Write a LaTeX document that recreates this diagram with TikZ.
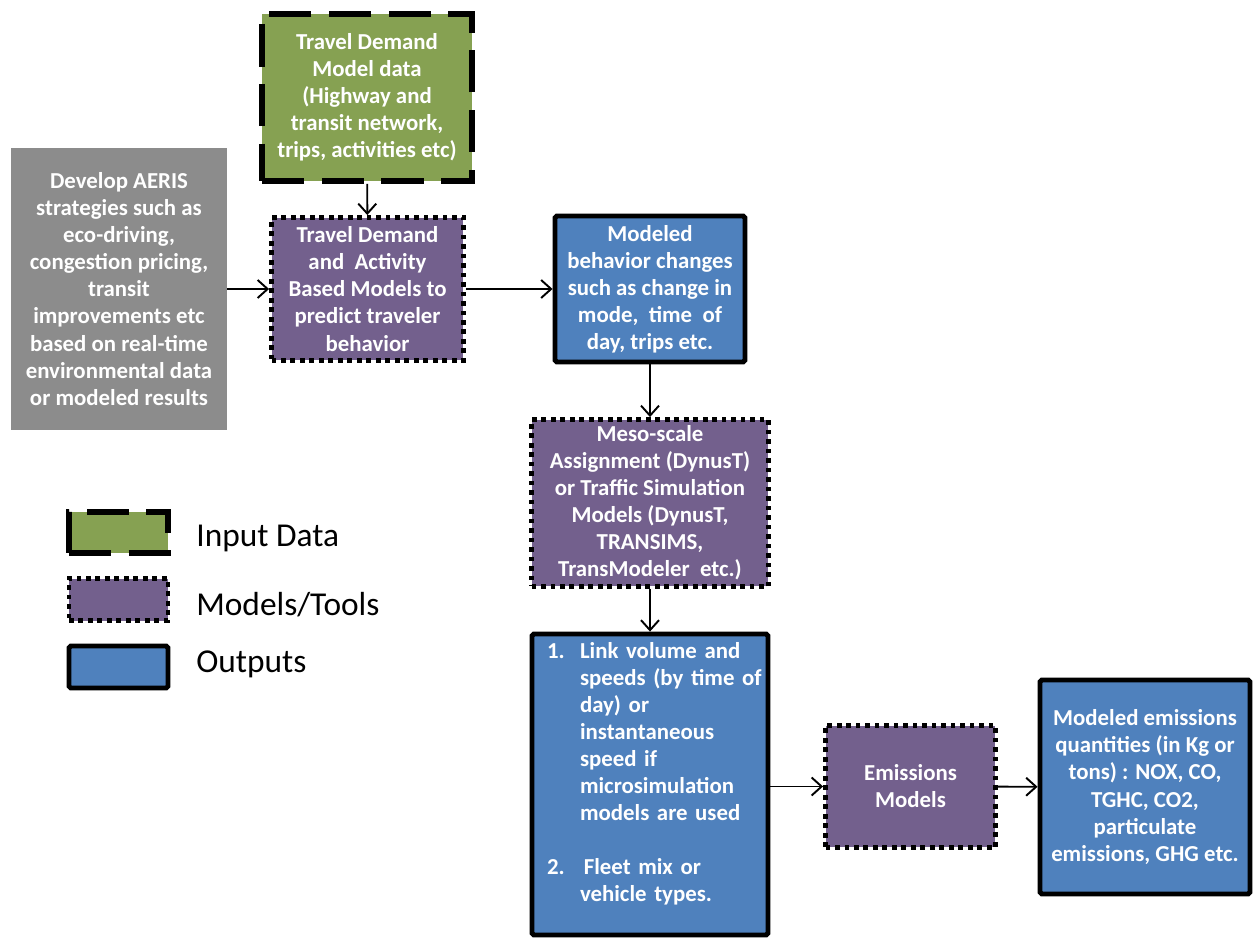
\documentclass[tikz,border=0pt]{standalone}
\usepackage{fontspec}
\setmainfont{Carlito}
\usetikzlibrary{arrows.meta}
\definecolor{boxgreen}{RGB}{134,161,82}
\definecolor{boxpurple}{RGB}{115,96,141}
\definecolor{boxblue}{RGB}{79,129,189}
\definecolor{boxgray}{RGB}{140,140,140}

\begin{document}
\begin{tikzpicture}[x=0.02cm,y=-0.02cm,
    >={Straight Barb[length=2mm,width=3.6mm]},
    txt/.style={text=white,align=center,inner sep=0pt,font=\fontsize{13}{15.4}\selectfont\bfseries},
    indatabox/.style={draw,fill=boxgreen,line width=3.2pt,dash pattern=on 24pt off 10pt},
    modelbox/.style={draw,fill=boxpurple,line width=2.8pt,dash pattern=on 2.7pt off 2.7pt},
    outbox/.style={draw,fill=boxblue,line width=2.8pt,rounded corners=1pt},
    graybox/.style={fill=boxgray},
    legtxt/.style={anchor=west,inner sep=0pt,font=\fontsize{19}{22}\selectfont}]
    \useasboundingbox (0,0) rectangle (1254,939);

    \node[indatabox,txt,minimum width=4.2cm,minimum height=3.34cm](dat) at (367,97.5){Travel Demand\\Model data\\(Highway and\\transit network,\\trips, activities etc)};
    \node[graybox,txt,minimum width=4.32cm,minimum height=5.64cm](aeris) at (119,289){Develop AERIS\\strategies such as\\eco-driving,\\congestion pricing,\\transit\\improvements etc\\based on real-time\\environmental data\\or modeled results};
    \node[modelbox,txt,minimum width=3.84cm,minimum height=2.86cm](tdm) at (367.5,289){Travel Demand\\and~ Activity\\Based Models to\\predict traveler\\behavior};
    \node[outbox,txt,minimum width=3.8cm,minimum height=2.92cm](behav) at (650,289){Modeled\\behavior changes\\such as change in\\mode,~ time~ of\\day, trips etc.};
    \node[modelbox,txt,minimum width=4.74cm,minimum height=3.34cm](meso) at (650,503){Meso-scale\\Assignment (DynusT)\\or Traffic Simulation\\Models (DynusT,\\TRANSIMS,\\TransModeler~ etc.)};
    \node[outbox,txt,align=left,text width=4.12cm,minimum width=4.72cm,minimum height=6.02cm](links) at (650,784.5){%
        \begin{tabular}{@{}p{0.66cm}@{}l@{}}
        1. & Link volume and\\
         & speeds (by time of\\
         & day) or\\
         & instantaneous\\
         & speed if\\
         & microsimulation\\
         & models are used\\
         & \\
        2. & \,Fleet mix or\\
         & vehicle types.\rule[-0.56cm]{0pt}{0pt}
        \end{tabular}};
    \node[modelbox,txt,minimum width=3.4cm,minimum height=2.44cm](emis) at (910.5,786.5){Emissions\\Models};
    \node[outbox,txt,minimum width=4.2cm,minimum height=4.28cm](out) at (1145,787){Modeled emissions\\quantities (in Kg or\\tons) : NOX, CO,\\TGHC, CO2,\\particulate\\emissions, GHG etc.};

    \draw[->,line width=1.1pt](dat)--(tdm);
    \draw[->,line width=1.1pt](aeris)--(tdm);
    \draw[->,line width=1.1pt](tdm)--(behav);
    \draw[->,line width=1.1pt](behav)--(meso);
    \draw[->,line width=1.1pt](meso)--(links);
    \draw[->,line width=1.1pt](links.east|-emis)--(emis);
    \draw[->,line width=1.1pt](emis)--(out);

    \node[indatabox,minimum width=1.98cm,minimum height=0.82cm](legin) at (118.5,532.5){};
    \node[modelbox,minimum width=1.98cm,minimum height=0.84cm](legmod) at (118.5,599.5){};
    \node[outbox,minimum width=1.98cm,minimum height=0.84cm](legout) at (118.5,667){};
    \node[legtxt](txtin) at (196,538){Input Data};
    \node[legtxt](txtmod) at (196,605){Models/Tools};
    \node[legtxt](txtout) at (196,664){Outputs};
\end{tikzpicture}
\end{document}
